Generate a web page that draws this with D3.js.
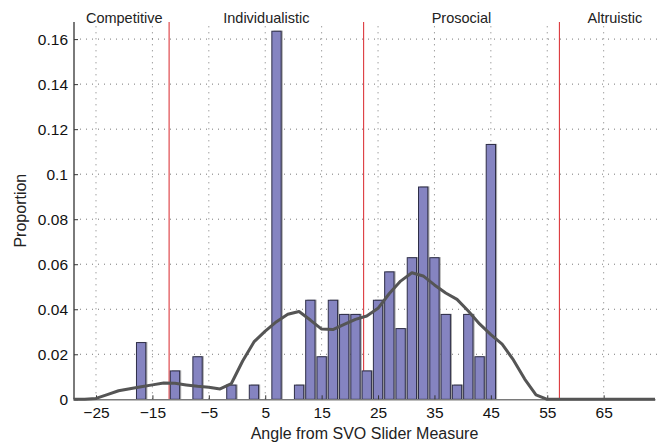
<!DOCTYPE html>
<html><head><meta charset="utf-8">
<script src="https://cdn.jsdelivr.net/npm/d3@7"></script>
<style>
html,body{margin:0;padding:0;background:#fff;}
svg{display:block;font-family:"Liberation Sans",Arial,Helvetica,sans-serif;}
</style></head>
<body>
<svg id="chart" width="657" height="443"></svg>
<script>
// ---- data ----
const binCenters = [-27,-25,-23,-21,-19,-17,-15,-13,-11,-9,-7,-5,-3,-1,1,3,5,7,9,11,13,15,17,19,21,23,25,27,29,31,33,35,37,39,41,43,45,47,49,51,53];
const proportions = [0,0,0,0,0,0.0252,0,0,0.0126,0,0.0189,0,0,0.0063,0,0.0063,0,0.1635,0,0.0063,0.0440,0.0189,0.0440,0.0377,0.0377,0.0126,0.0440,0.0566,0.0314,0.0629,0.0943,0.0629,0.0377,0.0063,0.0377,0.0189,0.1132,0,0,0,0];
const densityX = [-29,-27,-25,-23,-21,-19,-17,-15,-13,-11,-9,-7,-5,-3,-1,1,3,5,7,9,11,13,15,17,19,21,23,25,27,29,31,33,35,37,39,41,43,45,47,49,51,53,55,57,59,61,63,65,67,69,71,73,74.1];
const densityY = [0,0,0.0004,0.0021,0.0038,0.0047,0.0056,0.0064,0.0072,0.0071,0.0064,0.0058,0.0054,0.0046,0.0070,0.0170,0.0255,0.0303,0.0345,0.0378,0.0390,0.0352,0.0312,0.0310,0.0333,0.0355,0.0370,0.0404,0.0470,0.0525,0.0562,0.0548,0.0508,0.0472,0.0444,0.0392,0.0335,0.0287,0.0245,0.0175,0.0090,0.0020,0,0,0,0,0,0,0,0,0,0,0];
const boundaries = [-12.04, 22.45, 57.15];
const categories = ["Competitive","Individualistic","Prosocial","Altruistic"];
const categoryCenters = [-20, 5.2, 39.8, 67];
const xTicks = [-25,-15,-5,5,15,25,35,45,55,65];
const yTicks = [0,0.02,0.04,0.06,0.08,0.1,0.12,0.14,0.16];

// ---- layout ----
const svg = d3.select("#chart");
const pL = 74, pR = 655, pT = 22, pB = 399.3;
const x = d3.scaleLinear().domain([-28.9, 74.1]).range([pL, pR]);
const y = d3.scaleLinear().domain([0, 0.1676]).range([pB, pT]);
const barW = x(1.65) - x(0);

// grid
const grid = svg.append("g").attr("stroke", "#555").attr("stroke-width", 0.8).attr("stroke-dasharray", "1,5");
grid.selectAll("line.v").data(xTicks).join("line").attr("class", "v")
  .attr("x1", d => x(d)).attr("x2", d => x(d)).attr("y1", pB).attr("y2", pT);
grid.selectAll("line.h").data(yTicks.filter(d => d > 0)).join("line").attr("class", "h")
  .attr("x1", pL).attr("x2", 657).attr("y1", d => y(d)).attr("y2", d => y(d));

// boundary lines
svg.append("g").selectAll("line").data(boundaries).join("line")
  .attr("x1", d => x(d)).attr("x2", d => x(d)).attr("y1", pT).attr("y2", pB)
  .attr("stroke", "#d9252a").attr("stroke-width", 1);

// bars with soft shadow
const bars = binCenters.map((c, i) => ({c, v: proportions[i]}));
svg.append("g").selectAll("rect").data(bars.filter(d => d.v > 0)).join("rect")
  .attr("x", d => x(d.c) - barW / 2 + 1.6).attr("y", d => y(d.v) - 0.6)
  .attr("width", barW).attr("height", d => pB - y(d.v) + 0.6)
  .attr("fill", "#a9a9a9");
svg.append("g").selectAll("rect").data(bars).join("rect")
  .attr("x", d => x(d.c) - barW / 2).attr("y", d => y(d.v))
  .attr("width", barW).attr("height", d => pB - y(d.v))
  .attr("fill", "#8584c1").attr("stroke", "#2e2e48").attr("stroke-width", 1);

// axes
const xAxis = d3.axisBottom(x).tickValues(xTicks).tickSizeInner(-4).tickSizeOuter(0).tickPadding(8)
  .tickFormat(d => d < 0 ? "\u2212" + Math.abs(d) : d);
const gx = svg.append("g").attr("transform", `translate(0,${pB})`).call(xAxis);
gx.select(".domain").attr("stroke", "#7a7a7a").attr("stroke-width", 1.5);
gx.selectAll(".tick line").attr("stroke", "#333");
gx.selectAll("text").attr("font-size", 15.5).attr("fill", "#111").attr("font-family", "Liberation Sans, Arial, sans-serif");

const yAxis = d3.axisLeft(y).tickValues(yTicks).tickSizeInner(-4).tickSizeOuter(0).tickPadding(6)
  .tickFormat(d => d === 0 ? "0" : String(+d.toFixed(2)));
const gy = svg.append("g").attr("transform", `translate(${pL},0)`).call(yAxis);
gy.select(".domain").attr("stroke", "#7a7a7a").attr("stroke-width", 2).attr("d", `M0,${pB}V${pT}`);
gy.selectAll(".tick line").attr("stroke", "#333");
gy.selectAll("text").attr("font-size", 15.5).attr("fill", "#111").attr("font-family", "Liberation Sans, Arial, sans-serif");

// density line
svg.append("path").datum(densityX.map((d, i) => [d, densityY[i]]))
  .attr("d", d3.line().x(d => x(d[0])).y(d => y(d[1])))
  .attr("fill", "none").attr("stroke", "#555555").attr("stroke-width", 3)
  .attr("stroke-linejoin", "round");

// category labels
svg.append("g").selectAll("text").data(categories).join("text")
  .attr("x", (d, i) => x(categoryCenters[i])).attr("y", 22.5)
  .attr("text-anchor", "middle").attr("font-size", 14.5).attr("fill", "#222").text(d => d);

// axis titles
svg.append("text").attr("x", (pL + pR) / 2).attr("y", 439)
  .attr("text-anchor", "middle").attr("font-size", 16).attr("fill", "#222")
  .text("Angle from SVO Slider Measure");
svg.append("text").attr("transform", `translate(26,${(pT + pB) / 2}) rotate(-90)`)
  .attr("text-anchor", "middle").attr("font-size", 16).attr("fill", "#222").text("Proportion");
</script>
</body></html>
